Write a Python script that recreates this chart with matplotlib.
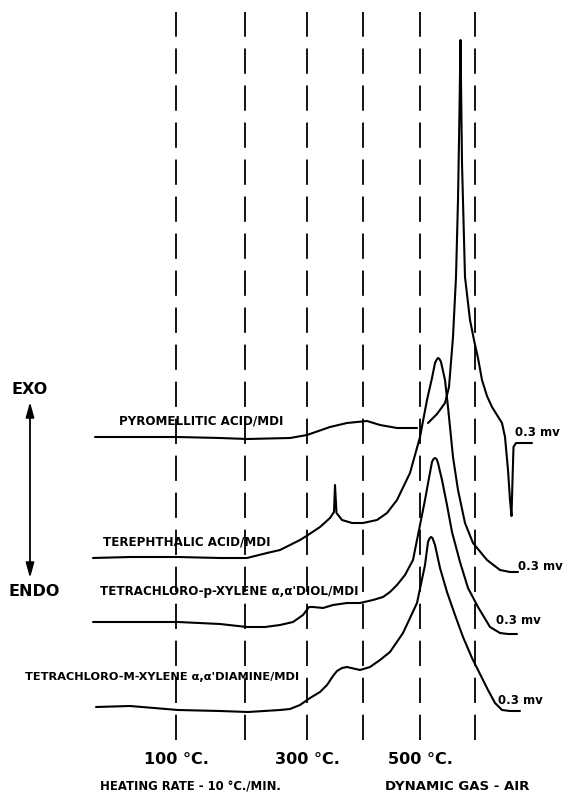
""" DTA thermograms of MDI reaction products, heating rate 10 C/min in air
"""

import numpy as np
import matplotlib.pyplot as plt

# temperature marks and where they fall on the chart (chart mm)
marker_temps = [100, 200, 300, 400, 500, 600]
marker_pos = [176, 245, 307, 363, 420, 475]
labelled_temps = [100, 300, 500]

names = [
    'PYROMELLITIC ACID/MDI',
    'TEREPHTHALIC ACID/MDI',
    "TETRACHLORO-p-XYLENE \u03b1,\u03b1'DIOL/MDI",
    "TETRACHLORO-M-XYLENE \u03b1,\u03b1'DIAMINE/MDI",
]
sensitivity = ['0.3 mv', '0.3 mv', '0.3 mv', '0.3 mv']

# pen position of each trace at the start of the run (chart mm)
baselines = [363, 242, 178, 91]

# chart distance and pen deflection (exo up) for every trace
pyro_x = [95, 130, 178, 220, 247, 290, 307, 330, 347, 367,
          380, 397, 417, np.nan, 428, 437, 445, 449, 453, 456,
          458, 459.5, 460.5, 462, 465, 470, 474, 478, 482, 487,
          492, 497, 502, 505, 508, 510, 511.5, 512.5, 513.5, 516,
          522, 532]
pyro_dt = [0, 0, 0, -1, -2, -1, 2, 10, 14, 16,
           12, 9, 9, np.nan, 14, 23, 34, 50, 100, 160,
           237, 327, 397, 274, 160, 117, 97, 79, 57, 41,
           30, 22, 14, 0, -33, -63, -79, -43, -10, -6,
           -6, -6]

tere_x = [93, 130, 178, 220, 247, 267, 280, 290, 300, 308,
          320, 330, 334, 335, 336.5, 342, 352, 363, 377, 387,
          397, 410, 420, 427, 432, 435, 436.5, 438, 439.5, 441,
          445, 448, 453, 458, 465, 473, 487, 500, 510, 518]
tere_dt = [0, 1, 1, 0, 0, 5, 8, 13, 18, 23,
           31, 40, 46, 73, 45, 38, 35, 35, 38, 45,
           58, 85, 121, 158, 180, 195, 198, 200, 199, 196,
           178, 151, 101, 68, 35, 15, -2, -12, -14, -14]

diol_x = [93, 130, 178, 220, 247, 265, 280, 293, 303, 309,
          313, 323, 333, 347, 360, 373, 383, 390, 397, 405,
          413, 420, 425, 429, 432, 433.5, 435, 436.5, 438, 442,
          447, 452, 460, 468, 478, 490, 500, 508, 517]
diol_dt = [0, 0, 0, -2, -5, -5, -3, 0, 7, 15,
           15, 14, 17, 19, 19, 22, 25, 30, 37, 47,
           62, 97, 122, 144, 160, 163, 164, 163, 159, 142,
           117, 90, 60, 34, 15, -5, -11, -12, -12]

diam_x = [96, 130, 178, 220, 248, 280, 290, 300, 310, 320,
          327, 333, 337, 342, 347, 360, 370, 380, 390, 403,
          417, 425, 428, 429.5, 431, 432.5, 435, 440, 447, 455,
          463, 472, 481, 488, 495, 502, 510, 520]
diam_dt = [2, 3, -1, -2, -3, -1, 0, 4, 11, 17,
           24, 33, 38, 41, 42, 39, 42, 49, 57, 76,
           106, 144, 167, 170.5, 172, 171, 164, 141, 117, 94,
           72, 51, 33, 19, 6, -1, -2, -2]


def plot_thermograms():
    traces = [(pyro_x, pyro_dt), (tere_x, tere_dt),
              (diol_x, diol_dt), (diam_x, diam_dt)]

    fig = plt.figure(figsize=(5.64, 8.0), dpi=100)
    ax = fig.add_axes([0, 0, 1, 1])
    ax.set_xlim(0, 564)
    ax.set_ylim(0, 800)
    ax.axis('off')

    # temperature marks
    for pos in marker_pos:
        ax.plot([pos, pos], [60, 788], color='black', lw=1.3,
                dashes=(14, 6.5), solid_capstyle='butt', zorder=1)
    for t, pos in zip(marker_temps, marker_pos):
        if t in labelled_temps:
            ax.text(pos, 40, f'{t} \u00b0C.', ha='center', va='center',
                    fontsize=11.5, fontweight='bold')

    # traces
    for (x, dt), base in zip(traces, baselines):
        y = base + np.array(dt, dtype=float)
        ax.plot(x, y, color='black', lw=1.5, solid_joinstyle='round',
                solid_capstyle='round', zorder=3)

    label_pos = [(119, 379), (103, 258), (100, 208), (25, 123)]
    label_size = [8.6, 8.6, 8.6, 8.2]
    for name, (lx, ly), fs in zip(names, label_pos, label_size):
        ax.text(lx, ly, name, ha='left', va='center',
                fontsize=fs, fontweight='bold')

    mv_pos = [(515, 368), (518, 234), (496, 180), (498, 100)]
    for s, (mx, my) in zip(sensitivity, mv_pos):
        ax.text(mx, my, s, ha='left', va='center',
                fontsize=8.5, fontweight='bold')

    # exo / endo arrow
    ax.annotate('', xy=(30, 398), xytext=(30, 222),
                arrowprops=dict(arrowstyle='<|-|>,head_length=0.9,head_width=0.25',
                                color='black', lw=1.3, shrinkA=0, shrinkB=0))
    ax.text(30, 410, 'EXO', ha='center', va='center',
            fontsize=11.5, fontweight='bold')
    ax.text(34, 209, 'ENDO', ha='center', va='center',
            fontsize=11.5, fontweight='bold')

    ax.text(100, 13, 'HEATING RATE - 10 \u00b0C./MIN.', ha='left',
            va='center', fontsize=8.4, fontweight='bold')
    ax.text(385, 13, 'DYNAMIC GAS - AIR', ha='left', va='center',
            fontsize=9.5, fontweight='bold')

    fig.savefig('out.png', dpi=100)


if __name__ == '__main__':
    plot_thermograms()
